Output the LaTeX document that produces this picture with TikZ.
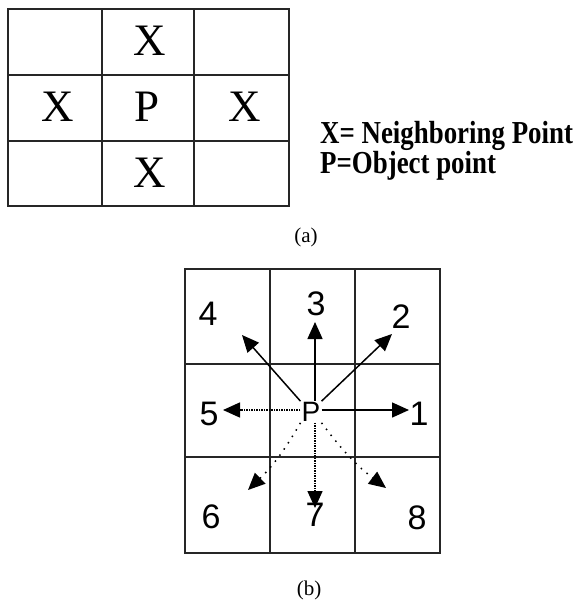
\documentclass[tikz,border=0pt]{standalone}
\usepackage{graphicx}
\usepackage{fontspec}
\setmainfont{Liberation Serif}
\newfontfamily\arialfont{Liberation Sans}
\usetikzlibrary{arrows.meta}
\begin{document}
\begin{tikzpicture}[x=1pt,y=-1pt,
  gridline/.style={line width=1.8pt, draw=black!85},
  celltxt/.style={font=\fontsize{45}{48}\selectfont, inner sep=0pt},
  legend/.style={font=\bfseries\fontsize{32}{34}\selectfont, anchor=base west, inner sep=0pt},
  captxt/.style={font=\fontsize{21}{24}\selectfont, inner sep=0pt},
  num/.style={font=\arialfont\fontsize{34}{36}\selectfont, inner sep=0pt},
  ptxt/.style={font=\arialfont\fontsize{28}{30}\selectfont, inner sep=1pt},
  solidarr/.style={line width=1.5pt, -{Triangle[length=17pt,width=15pt]}},
  dotarr/.style={line width=1.5pt, densely dotted, -{Triangle[length=17pt,width=15pt]}},
  sparsearr/.style={line width=1.5pt, dash pattern=on 1.5pt off 6pt, -{Triangle[length=17pt,width=15pt]}}]
\useasboundingbox (0,0) rectangle (583,602);
\fill[white] (0,0) rectangle (583,602);

% ---- grid (a)
\draw[gridline] (8,9) rectangle (289,206);
\draw[gridline] (102,9) -- (102,206) (194,9) -- (194,206)
                (8,75) -- (289,75) (8,141) -- (289,141);
\node[celltxt] (aT) at (150,41) {X};
\node[celltxt] (aL) at (58,107) {X};
\node[celltxt] (aP) at (147,107) {P};
\node[celltxt] (aR) at (245,107) {X};
\node[celltxt] (aB) at (150,173) {X};

\node[legend] (leg1) at (320,143) {\scalebox{0.84}[1]{X= Neighboring Point}};
\node[legend] (leg2) at (320,173) {\scalebox{0.84}[1]{P=Object point}};
\node[captxt] (capa) at (306,237) {(a)};

% ---- grid (b)
\draw[gridline] (185,269) rectangle (440,553);
\draw[gridline] (270,269) -- (270,553) (355,269) -- (355,553)
                (185,364) -- (440,364) (185,457) -- (440,457);

\node[ptxt] (P) at (311,412) {P};
\node[num] (n1) at (419,414) {1};
\node[num] (n2) at (401,317) {2};
\node[num] (n3) at (316,304) {3};
\node[num] (n4) at (208,314) {4};
\node[num] (n5) at (209,414) {5};
\node[num] (n6) at (211,517) {6};
\node[num] (n7) at (315,515) {7};
\node[num] (n8) at (417,518) {8};

\coordinate (t1) at (409,410);
\coordinate (t2) at (392,334);
\coordinate (t3) at (315,322);
\coordinate (t4) at (242,335);
\coordinate (t5) at (223,410);
\coordinate (t6) at (248,490);
\coordinate (t7) at (315,508);
\coordinate (t8) at (386,488);

\draw[solidarr] (P.east |- t1) -- (t1);
\draw[solidarr] (P.north east) -- (t2);
\draw[solidarr] (P.north -| t3) -- (t3);
\draw[solidarr] (P.north west) -- (t4);
\draw[dotarr] (P.west |- t5) -- (t5);
\draw[dotarr] (P.south -| t7) -- (t7);
\draw[sparsearr] (P.south west) to[bend left=8] (t6);
\draw[sparsearr] (P.south east) to[bend right=8] (t8);

\node[captxt] (capb) at (309,590) {(b)};
\end{tikzpicture}
\end{document}
